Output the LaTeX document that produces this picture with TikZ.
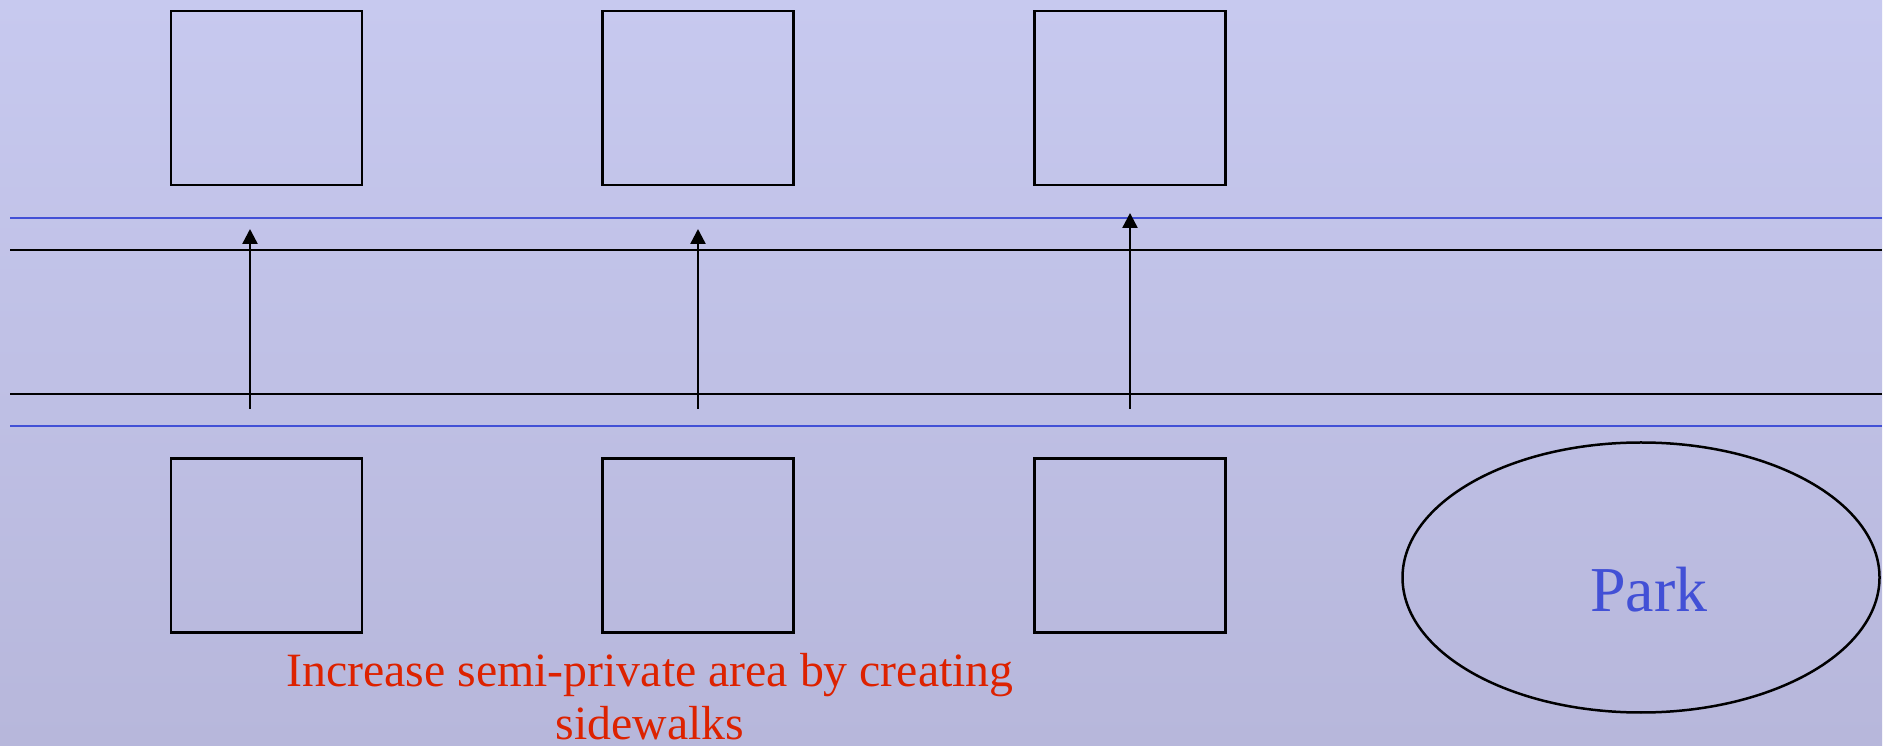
\documentclass[tikz,border=0pt]{standalone}
\usepackage{fontspec}
\setmainfont{Liberation Serif}
\usetikzlibrary{arrows.meta,shapes.geometric}
\definecolor{bgtop}{RGB}{199,201,239}
\definecolor{bgbot}{RGB}{183,183,219}
\definecolor{roadblue}{RGB}{66,80,214}
\definecolor{notered}{RGB}{221,34,0}
\begin{document}
\begin{tikzpicture}[x=0.5pt,y=-0.5pt,
  house/.style={draw=black,line width=1.4pt,rectangle,minimum width=95.5pt,minimum height=87pt,inner sep=0pt},
  edgeblack/.style={draw=black,line width=1.25pt},
  edgeblue/.style={draw=roadblue,line width=1.25pt},
  upline/.style={draw=black,line width=1.2pt,-{Triangle[length=7.5pt,width=7.5pt]}},
  parkshape/.style={draw=black,line width=1.25pt,ellipse,minimum width=238.5pt,minimum height=135pt,inner sep=0pt}]
\useasboundingbox (0,0) rectangle (1894,747);
\fill[white] (0,0) rectangle (1894,747);
\shade[top color=bgtop,bottom color=bgbot] (0,0) rectangle (1882,745);
% houses
\node[house] (ht1) at (266.5,98) {};
\node[house] (ht2) at (698,98) {};
\node[house] (ht3) at (1130,98) {};
\node[house] (hb1) at (266.5,545.5) {};
\node[house] (hb2) at (698,545.5) {};
\node[house] (hb3) at (1130,545.5) {};
% road edges
\coordinate (sw1l) at (10,218); \coordinate (sw1r) at (1882,218);
\coordinate (rd1l) at (10,250); \coordinate (rd1r) at (1882,250);
\coordinate (rd2l) at (10,394); \coordinate (rd2r) at (1882,394);
\coordinate (sw2l) at (10,426); \coordinate (sw2r) at (1882,426);
\draw[edgeblue] (sw1l) -- (sw1r);
\draw[edgeblack] (rd1l) -- (rd1r);
\draw[edgeblack] (rd2l) -- (rd2r);
\draw[edgeblue] (sw2l) -- (sw2r);
% arrows
\coordinate (a1t) at (250,409); \coordinate (a1h) at (250,229);
\coordinate (a2t) at (698,409); \coordinate (a2h) at (698,229);
\coordinate (a3t) at (1130,409); \coordinate (a3h) at (1130,213);
\draw[upline] (a1t) -- (a1h);
\draw[upline] (a2t) -- (a2h);
\draw[upline] (a3t) -- (a3h);
% park
\node[parkshape] (park) at (1641,577.5) {};
\node[anchor=base,text=roadblue,font=\fontsize{32pt}{38pt}\selectfont,inner sep=0pt] (parklabel) at (1649,612) {Park};
% note
\node[anchor=north,align=center,text=notered,inner sep=0pt,font=\fontsize{23.9pt}{26.3pt}\selectfont] (note) at (650,653) {Increase semi-private area by creating\\sidewalks};
\end{tikzpicture}
\end{document}
